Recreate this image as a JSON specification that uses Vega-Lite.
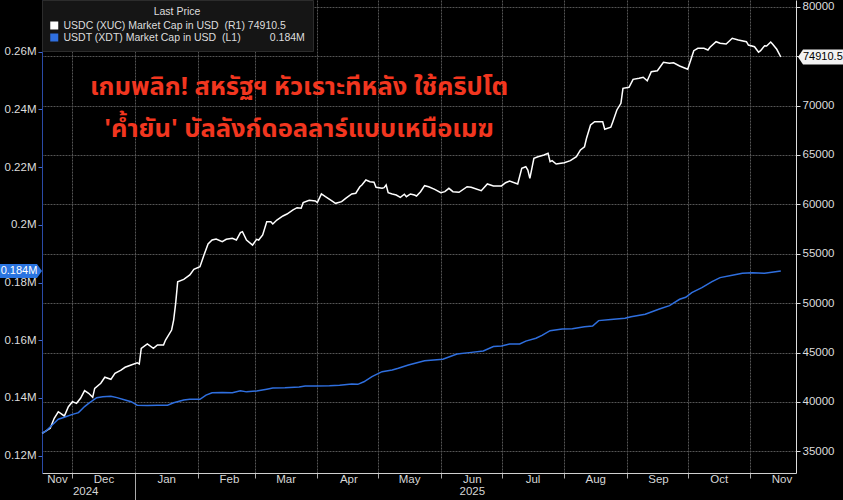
{
  "$schema": "https://vega.github.io/schema/vega-lite/v6.json",
  "width": 754,
  "height": 473,
  "autosize": {"type": "none"},
  "padding": {"left": 42, "top": 0, "right": 47, "bottom": 27},
  "background": "#000000",
  "config": {
    "view": {"stroke": null},
    "font": "Liberation Sans",
    "axis": {"labelFont": "Liberation Sans Narrow, Liberation Sans, sans-serif", "titleColor": "#dddddd"}
  },
  "title": {
    "text": ["เกมพลิก! สหรัฐฯ หัวเราะทีหลัง ใช้คริปโต", "'ค้ำยัน' บัลลังก์ดอลลาร์แบบเหนือเมฆ"],
    "color": "#f2361f",
    "fontSize": 25.5,
    "fontWeight": "bold",
    "font": "Noto Sans Thai, Noto Sans, sans-serif",
    "anchor": "middle",
    "align": "center",
    "frame": "group",
    "orient": "top",
    "dx": -120,
    "offset": -143,
    "lineHeight": 42
  },
  "datasets": {
    "usdc": [
      {"date": "2024-11-16", "v": 36830}, {"date": "2024-11-20", "v": 37330}, {"date": "2024-11-22", "v": 38350},
      {"date": "2024-11-24", "v": 39010}, {"date": "2024-11-27", "v": 38580}, {"date": "2024-11-29", "v": 39520},
      {"date": "2024-12-01", "v": 40030}, {"date": "2024-12-03", "v": 39860}, {"date": "2024-12-05", "v": 40370},
      {"date": "2024-12-07", "v": 41140}, {"date": "2024-12-09", "v": 40880}, {"date": "2024-12-11", "v": 40470},
      {"date": "2024-12-12", "v": 41380}, {"date": "2024-12-15", "v": 41890}, {"date": "2024-12-17", "v": 42500},
      {"date": "2024-12-20", "v": 42290}, {"date": "2024-12-22", "v": 42900}, {"date": "2024-12-25", "v": 43230},
      {"date": "2024-12-27", "v": 43510}, {"date": "2024-12-30", "v": 43740}, {"date": "2025-01-02", "v": 43970},
      {"date": "2025-01-03", "v": 43840}, {"date": "2025-01-04", "v": 45430}, {"date": "2025-01-07", "v": 45870},
      {"date": "2025-01-10", "v": 45430}, {"date": "2025-01-12", "v": 45760}, {"date": "2025-01-15", "v": 45760},
      {"date": "2025-01-16", "v": 46270}, {"date": "2025-01-19", "v": 47280}, {"date": "2025-01-20", "v": 48290},
      {"date": "2025-01-21", "v": 49980}, {"date": "2025-01-22", "v": 52170}, {"date": "2025-01-25", "v": 52410},
      {"date": "2025-01-28", "v": 52850}, {"date": "2025-01-30", "v": 53430}, {"date": "2025-02-02", "v": 53690},
      {"date": "2025-02-04", "v": 54870}, {"date": "2025-02-06", "v": 55990}, {"date": "2025-02-08", "v": 56390},
      {"date": "2025-02-10", "v": 56490}, {"date": "2025-02-13", "v": 56220}, {"date": "2025-02-15", "v": 56460},
      {"date": "2025-02-18", "v": 56560}, {"date": "2025-02-20", "v": 56390}, {"date": "2025-02-22", "v": 57130},
      {"date": "2025-02-23", "v": 57230}, {"date": "2025-02-25", "v": 56390}, {"date": "2025-02-28", "v": 55880},
      {"date": "2025-03-02", "v": 56460}, {"date": "2025-03-03", "v": 56390}, {"date": "2025-03-05", "v": 56900},
      {"date": "2025-03-07", "v": 58240}, {"date": "2025-03-09", "v": 58240}, {"date": "2025-03-10", "v": 58010},
      {"date": "2025-03-12", "v": 58410}, {"date": "2025-03-15", "v": 58820}, {"date": "2025-03-17", "v": 59020},
      {"date": "2025-03-20", "v": 59430}, {"date": "2025-03-22", "v": 59660}, {"date": "2025-03-24", "v": 59600},
      {"date": "2025-03-25", "v": 60170}, {"date": "2025-03-28", "v": 60410}, {"date": "2025-03-31", "v": 60340},
      {"date": "2025-04-01", "v": 60170}, {"date": "2025-04-03", "v": 61050}, {"date": "2025-04-05", "v": 60770},
      {"date": "2025-04-08", "v": 60370}, {"date": "2025-04-10", "v": 60100}, {"date": "2025-04-13", "v": 60270},
      {"date": "2025-04-15", "v": 60610}, {"date": "2025-04-18", "v": 61050}, {"date": "2025-04-20", "v": 61120},
      {"date": "2025-04-22", "v": 61780}, {"date": "2025-04-23", "v": 61960}, {"date": "2025-04-25", "v": 62460},
      {"date": "2025-04-27", "v": 62290}, {"date": "2025-04-29", "v": 62230}, {"date": "2025-04-30", "v": 61720},
      {"date": "2025-05-03", "v": 61620}, {"date": "2025-05-04", "v": 61680}, {"date": "2025-05-05", "v": 61960},
      {"date": "2025-05-06", "v": 61180}, {"date": "2025-05-08", "v": 61050}, {"date": "2025-05-10", "v": 60940},
      {"date": "2025-05-12", "v": 60710}, {"date": "2025-05-14", "v": 61020}, {"date": "2025-05-15", "v": 60770},
      {"date": "2025-05-17", "v": 61050}, {"date": "2025-05-19", "v": 60940}, {"date": "2025-05-20", "v": 60840},
      {"date": "2025-05-22", "v": 61280}, {"date": "2025-05-24", "v": 61890}, {"date": "2025-05-26", "v": 61780},
      {"date": "2025-05-29", "v": 61520}, {"date": "2025-06-01", "v": 61180}, {"date": "2025-06-03", "v": 61280},
      {"date": "2025-06-05", "v": 61620}, {"date": "2025-06-07", "v": 61280}, {"date": "2025-06-10", "v": 61220},
      {"date": "2025-06-14", "v": 61780}, {"date": "2025-06-16", "v": 61720}, {"date": "2025-06-21", "v": 61380},
      {"date": "2025-06-24", "v": 62060}, {"date": "2025-06-27", "v": 61860}, {"date": "2025-07-01", "v": 61860},
      {"date": "2025-07-03", "v": 62190}, {"date": "2025-07-05", "v": 62360}, {"date": "2025-07-09", "v": 62060},
      {"date": "2025-07-11", "v": 63650}, {"date": "2025-07-13", "v": 63810}, {"date": "2025-07-14", "v": 63470},
      {"date": "2025-07-15", "v": 62630}, {"date": "2025-07-17", "v": 64660}, {"date": "2025-07-19", "v": 64820},
      {"date": "2025-07-22", "v": 64990}, {"date": "2025-07-24", "v": 65160}, {"date": "2025-07-25", "v": 64310},
      {"date": "2025-07-26", "v": 64420}, {"date": "2025-07-28", "v": 64080}, {"date": "2025-08-01", "v": 64210},
      {"date": "2025-08-04", "v": 64420}, {"date": "2025-08-07", "v": 64820}, {"date": "2025-08-09", "v": 65500},
      {"date": "2025-08-11", "v": 65830}, {"date": "2025-08-12", "v": 66680}, {"date": "2025-08-14", "v": 68030},
      {"date": "2025-08-16", "v": 68360}, {"date": "2025-08-20", "v": 68360}, {"date": "2025-08-21", "v": 67590},
      {"date": "2025-08-24", "v": 67800}, {"date": "2025-08-25", "v": 68360}, {"date": "2025-08-27", "v": 69550},
      {"date": "2025-08-29", "v": 70220}, {"date": "2025-08-30", "v": 71740}, {"date": "2025-09-02", "v": 71840},
      {"date": "2025-09-04", "v": 72650}, {"date": "2025-09-07", "v": 72750}, {"date": "2025-09-09", "v": 72860},
      {"date": "2025-09-11", "v": 72510}, {"date": "2025-09-13", "v": 73420}, {"date": "2025-09-16", "v": 73520},
      {"date": "2025-09-19", "v": 74370}, {"date": "2025-09-22", "v": 74270}, {"date": "2025-09-24", "v": 74330},
      {"date": "2025-09-27", "v": 74000}, {"date": "2025-10-01", "v": 73670}, {"date": "2025-10-04", "v": 75550},
      {"date": "2025-10-06", "v": 75790}, {"date": "2025-10-09", "v": 75790}, {"date": "2025-10-11", "v": 75620},
      {"date": "2025-10-12", "v": 75890}, {"date": "2025-10-15", "v": 76460}, {"date": "2025-10-17", "v": 76300},
      {"date": "2025-10-20", "v": 76230}, {"date": "2025-10-23", "v": 76800}, {"date": "2025-10-26", "v": 76630},
      {"date": "2025-10-30", "v": 76460}, {"date": "2025-10-31", "v": 76120}, {"date": "2025-11-03", "v": 75950},
      {"date": "2025-11-05", "v": 75390}, {"date": "2025-11-06", "v": 75550}, {"date": "2025-11-08", "v": 76050},
      {"date": "2025-11-09", "v": 76020}, {"date": "2025-11-11", "v": 76430}, {"date": "2025-11-12", "v": 76200},
      {"date": "2025-11-14", "v": 75690}, {"date": "2025-11-16", "v": 74910.5}
    ],
    "usdt": [
      {"date": "2024-11-16", "v": 0.1277}, {"date": "2024-11-18", "v": 0.1286}, {"date": "2024-11-21", "v": 0.1306},
      {"date": "2024-11-24", "v": 0.1326}, {"date": "2024-11-27", "v": 0.1333}, {"date": "2024-12-01", "v": 0.1343},
      {"date": "2024-12-04", "v": 0.1349}, {"date": "2024-12-07", "v": 0.137}, {"date": "2024-12-09", "v": 0.1381},
      {"date": "2024-12-13", "v": 0.1401}, {"date": "2024-12-16", "v": 0.1404}, {"date": "2024-12-20", "v": 0.1406},
      {"date": "2024-12-23", "v": 0.1401}, {"date": "2024-12-27", "v": 0.1393}, {"date": "2024-12-30", "v": 0.1387},
      {"date": "2025-01-02", "v": 0.1375}, {"date": "2025-01-07", "v": 0.1374}, {"date": "2025-01-12", "v": 0.1375},
      {"date": "2025-01-17", "v": 0.1375}, {"date": "2025-01-20", "v": 0.1383}, {"date": "2025-01-25", "v": 0.1393},
      {"date": "2025-01-28", "v": 0.1395}, {"date": "2025-02-02", "v": 0.1395}, {"date": "2025-02-05", "v": 0.141},
      {"date": "2025-02-08", "v": 0.1418}, {"date": "2025-02-13", "v": 0.1419}, {"date": "2025-02-18", "v": 0.1418},
      {"date": "2025-02-22", "v": 0.1425}, {"date": "2025-02-25", "v": 0.1421}, {"date": "2025-03-02", "v": 0.1424},
      {"date": "2025-03-07", "v": 0.143}, {"date": "2025-03-10", "v": 0.1434}, {"date": "2025-03-16", "v": 0.1435},
      {"date": "2025-03-23", "v": 0.1438}, {"date": "2025-03-26", "v": 0.1441}, {"date": "2025-03-31", "v": 0.1441},
      {"date": "2025-04-07", "v": 0.1442}, {"date": "2025-04-12", "v": 0.1444}, {"date": "2025-04-18", "v": 0.1448},
      {"date": "2025-04-21", "v": 0.1447}, {"date": "2025-04-24", "v": 0.1456}, {"date": "2025-04-28", "v": 0.1474},
      {"date": "2025-05-03", "v": 0.1491}, {"date": "2025-05-08", "v": 0.1497}, {"date": "2025-05-11", "v": 0.1503},
      {"date": "2025-05-16", "v": 0.1514}, {"date": "2025-05-24", "v": 0.1529}, {"date": "2025-06-02", "v": 0.1534},
      {"date": "2025-06-09", "v": 0.1552}, {"date": "2025-06-15", "v": 0.1557}, {"date": "2025-06-22", "v": 0.1563},
      {"date": "2025-06-27", "v": 0.1578}, {"date": "2025-07-01", "v": 0.158}, {"date": "2025-07-05", "v": 0.1587},
      {"date": "2025-07-10", "v": 0.1587}, {"date": "2025-07-13", "v": 0.1597}, {"date": "2025-07-18", "v": 0.1607},
      {"date": "2025-07-21", "v": 0.1617}, {"date": "2025-07-25", "v": 0.1633}, {"date": "2025-07-31", "v": 0.1639},
      {"date": "2025-08-05", "v": 0.164}, {"date": "2025-08-11", "v": 0.1647}, {"date": "2025-08-15", "v": 0.1649},
      {"date": "2025-08-18", "v": 0.1668}, {"date": "2025-08-24", "v": 0.1672}, {"date": "2025-08-31", "v": 0.1676},
      {"date": "2025-09-03", "v": 0.1681}, {"date": "2025-09-10", "v": 0.169}, {"date": "2025-09-17", "v": 0.1708},
      {"date": "2025-09-22", "v": 0.172}, {"date": "2025-09-27", "v": 0.1742}, {"date": "2025-09-30", "v": 0.1749},
      {"date": "2025-10-03", "v": 0.1765}, {"date": "2025-10-08", "v": 0.1782}, {"date": "2025-10-13", "v": 0.1803},
      {"date": "2025-10-17", "v": 0.1817}, {"date": "2025-10-23", "v": 0.1825}, {"date": "2025-10-28", "v": 0.1832},
      {"date": "2025-11-02", "v": 0.1834}, {"date": "2025-11-08", "v": 0.1832}, {"date": "2025-11-16", "v": 0.184}
    ],
    "tagR": [{"v": 74910.5, "label": "74910.5"}],
    "tagL": [{"v": 0.184, "label": "0.184M"}]
  },
  "layer": [
    {
      "layer": [
        {
          "data": {"name": "usdc"},
          "mark": {"type": "line", "strokeWidth": 1.5, "interpolate": "linear"},
          "encoding": {
            "x": {
              "field": "date", "type": "temporal",
              "scale": {"type": "utc", "domain": [{"year": 2024, "month": 11, "date": 15, "hours": 23, "utc": true}, {"year": 2025, "month": 11, "date": 23, "hours": 12, "utc": true}]},
              "axis": {
                "title": null, "orient": "bottom",
                "values": [
                  {"year": 2024, "month": 11, "date": 15, "hours": 23, "utc": true},
                  {"year": 2024, "month": 11, "date": 22, "utc": true},
                  {"year": 2024, "month": 12, "date": 1, "utc": true}, {"year": 2025, "month": 1, "date": 1, "utc": true},
                  {"year": 2025, "month": 2, "date": 1, "utc": true}, {"year": 2025, "month": 3, "date": 1, "utc": true},
                  {"year": 2025, "month": 4, "date": 1, "utc": true}, {"year": 2025, "month": 5, "date": 1, "utc": true},
                  {"year": 2025, "month": 6, "date": 1, "utc": true}, {"year": 2025, "month": 7, "date": 1, "utc": true},
                  {"year": 2025, "month": 8, "date": 1, "utc": true}, {"year": 2025, "month": 9, "date": 1, "utc": true},
                  {"year": 2025, "month": 10, "date": 1, "utc": true}, {"year": 2025, "month": 11, "date": 1, "utc": true}
                ],
                "labelExpr": "utcyear(datum.value) == 2024 && utcmonth(datum.value) == 10 ? (utcdate(datum.value) == 22 ? ['', '2024'] : 'Nov') : (utcmonth(datum.value) == 5 ? ['Jun', '2025'] : utcFormat(datum.value, '%b'))",
                "labelOffset": {"condition": {"test": "utcyear(datum.value) == 2024 && utcmonth(datum.value) == 10 && utcdate(datum.value) == 15", "value": 15}, "value": 31},
                "labelOverlap": false, "labelFlush": false, "labelBound": false,
                "labelColor": "#d6d6d6", "labelFontSize": 11.5, "labelLineHeight": 12,
                "labelPadding": {"condition": {"test": "utcmonth(datum.value) == 0", "value": -26.5}, "value": -4.5},
                "grid": true, "gridColor": "#555555", "gridDash": [2, 1], "gridWidth": 1,
                "gridOpacity": {"condition": {"test": "utcyear(datum.value) == 2024 && utcmonth(datum.value) == 10", "value": 0}, "value": 1},
                "domainColor": "#cfcfcf", "domainWidth": 1,
                "ticks": true, "tickColor": "#aaaaaa",
                "tickOpacity": {"condition": {"test": "utcyear(datum.value) == 2024 && utcmonth(datum.value) == 10", "value": 0}, "value": 1},
                "tickSize": {"condition": {"test": "utcmonth(datum.value) == 0", "value": 27}, "value": 5}
              }
            },
            "y": {
              "field": "v", "type": "quantitative",
              "scale": {"domain": [32810, 80678], "nice": false, "zero": false},
              "axis": {
                "orient": "right", "title": null,
                "values": [35000, 40000, 45000, 50000, 55000, 60000, 65000, 70000, 75000, 80000],
                "labelExpr": "datum.value == 75000 ? '' : format(datum.value, 'd')",
                "labelColor": "#dddddd", "labelFontSize": 11.5, "labelPadding": 2,
                "domainColor": "#dddddd", "tickColor": "#dddddd", "tickSize": 4,
                "grid": true, "gridColor": "#555555", "gridDash": [2, 1], "gridWidth": 1
              }
            },
            "color": {
              "datum": "USDC", "type": "nominal",
              "scale": {"domain": ["USDC", "USDT"], "range": ["#ffffff", "#2f6fdf"]},
              "legend": {
                "title": "Last Price", "orient": "top-left", "offset": 0,
                "fillColor": "#151515", "strokeColor": "#2c2c2c", "padding": 7,
                "titleAnchor": "middle", "titleColor": "#dddddd", "titleFontWeight": "normal", "titleFontSize": 10.5, "titlePadding": 2,
                "titleFont": "Liberation Sans",
                "labelColor": "#dddddd", "labelFontSize": 10.5, "labelFont": "Liberation Sans", "labelLimit": 400,
                "symbolType": "square", "symbolSize": 16, "symbolStrokeWidth": 4, "rowPadding": 0, "clipHeight": 12,
                "labelExpr": "datum.label == 'USDC' ? 'USDC (XUC) Market Cap in USD\u00a0\u00a0(R1) 74910.5' : 'USDT (XDT) Market Cap in USD\u00a0\u00a0(L1)\u00a0\u00a0\u00a0\u00a0\u00a0\u00a0\u00a0\u00a0\u00a0\u00a00.184M'"
              }
            }
          }
        },
        {
          "data": {"name": "tagR"},
          "mark": {"type": "point", "shape": "M2,0 L7,-7.5 L52,-7.5 L52,7.5 L7,7.5 Z", "filled": true, "size": 4, "fill": "#f2f2f2", "opacity": 1, "strokeWidth": 0, "clip": false},
          "encoding": {
            "x": {"datum": {"year": 2025, "month": 11, "date": 23, "hours": 12, "utc": true}, "type": "temporal"},
            "y": {"field": "v", "type": "quantitative"}
          }
        },
        {
          "data": {"name": "tagR"},
          "mark": {"type": "text", "align": "left", "baseline": "middle", "dx": 7, "fontSize": 11, "color": "#000000", "font": "Liberation Sans", "clip": false},
          "encoding": {
            "x": {"datum": {"year": 2025, "month": 11, "date": 23, "hours": 12, "utc": true}, "type": "temporal"},
            "y": {"field": "v", "type": "quantitative"},
            "text": {"field": "label"}
          }
        }
      ]
    },
    {
      "layer": [
        {
          "data": {"name": "usdt"},
          "mark": {"type": "line", "strokeWidth": 1.5, "interpolate": "linear"},
          "encoding": {
            "x": {"field": "date", "type": "temporal"},
            "y": {
              "field": "v", "type": "quantitative",
              "scale": {"domain": [0.11398, 0.27792], "nice": false, "zero": false},
              "axis": {
                "orient": "left", "title": null,
                "values": [0.12, 0.14, 0.16, 0.18, 0.2, 0.22, 0.24, 0.26],
                "labelExpr": "format(datum.value, '.2~f') + 'M'",
                "labelColor": "#dddddd", "labelFontSize": 11.5, "labelPadding": 2,
                "domainColor": "#2a4aa6", "tickColor": "#3f6ad0", "tickSize": 4, "grid": false
              }
            },
            "color": {"datum": "USDT", "type": "nominal"}
          }
        },
        {
          "data": {"name": "tagL"},
          "mark": {"type": "point", "shape": "M-42,-7 L-5,-7 L0,0 L-5,7 L-42,7 Z", "filled": true, "size": 4, "fill": "#2a74e0", "opacity": 1, "strokeWidth": 0, "clip": false},
          "encoding": {
            "x": {"datum": {"year": 2024, "month": 11, "date": 15, "hours": 23, "utc": true}, "type": "temporal"},
            "y": {"field": "v", "type": "quantitative"}
          }
        },
        {
          "data": {"name": "tagL"},
          "mark": {"type": "text", "align": "center", "baseline": "middle", "dx": -23, "fontSize": 11, "color": "#ffffff", "font": "Liberation Sans", "clip": false},
          "encoding": {
            "x": {"datum": {"year": 2024, "month": 11, "date": 15, "hours": 23, "utc": true}, "type": "temporal"},
            "y": {"field": "v", "type": "quantitative"},
            "text": {"field": "label"}
          }
        }
      ]
    }
  ],
  "resolve": {"scale": {"y": "independent"}}
}
